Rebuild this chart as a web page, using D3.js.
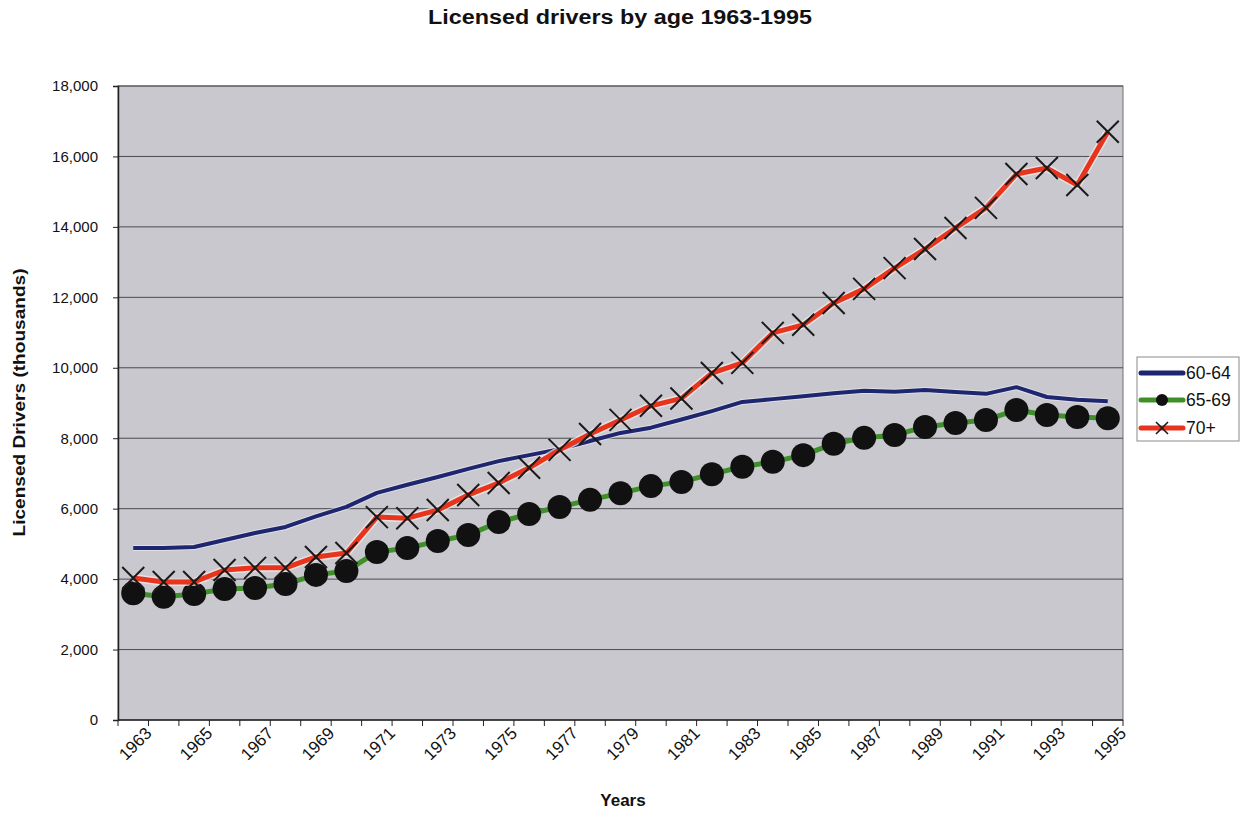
<!DOCTYPE html>
<html>
<head>
<meta charset="utf-8">
<script src="https://cdn.jsdelivr.net/npm/d3@7/dist/d3.min.js"></script>
<style>
  html, body { margin: 0; padding: 0; background: #ffffff; }
  svg { display: block; font-family: "Liberation Sans", Arial, sans-serif; }
</style>
</head>
<body>
<svg id="chart" width="1242" height="813"></svg>
<script>
// ---- data ----
const years = [1963,1964,1965,1966,1967,1968,1969,1970,1971,1972,1973,1974,1975,1976,1977,1978,1979,1980,1981,1982,1983,1984,1985,1986,1987,1988,1989,1990,1991,1992,1993,1994,1995];
const age6064 = [4880,4880,4910,5110,5310,5480,5780,6050,6450,6680,6900,7130,7350,7520,7690,7920,8150,8300,8530,8770,9030,9110,9190,9280,9350,9320,9370,9310,9260,9450,9170,9090,9050];
const age6569 = [3600,3500,3580,3720,3750,3860,4120,4230,4770,4880,5080,5250,5620,5850,6050,6250,6440,6640,6760,6980,7190,7330,7520,7840,8010,8090,8320,8430,8520,8800,8660,8600,8570];
const age70p  = [4030,3920,3920,4260,4320,4320,4630,4740,5760,5730,5960,6390,6730,7160,7670,8120,8520,8920,9130,9850,10140,10990,11220,11840,12240,12830,13370,13970,14540,15500,15670,15190,16700];
const yTicks = [0,2000,4000,6000,8000,10000,12000,14000,16000,18000];
const xLabelYears = [1963,1965,1967,1969,1971,1973,1975,1977,1979,1981,1983,1985,1987,1989,1991,1993,1995];
const seriesNames = ["60-64","65-69","70+"];

// ---- layout ----
const svg = d3.select("#chart");
const L = 118, R = 1123, T = 86, B = 720;

const x = d3.scaleBand().domain(years).range([L, R]).paddingInner(0).paddingOuter(0);
const y = d3.scaleLinear().domain([0, 18000]).range([B, T]);
const cx = d => x(d) + x.bandwidth() / 2;

// plot background
svg.append("rect").attr("x", L).attr("y", T).attr("width", R - L).attr("height", B - T)
  .attr("fill", "#c9c8ce").attr("stroke", "#707070").attr("stroke-width", 1);

// gridlines
svg.append("g").selectAll("line").data(yTicks.filter(v => v > 0)).join("line")
  .attr("x1", L).attr("x2", R).attr("y1", d => y(d)).attr("y2", d => y(d))
  .attr("stroke", "#4a4a50").attr("stroke-width", 1);

// y axis
const yAxis = d3.axisLeft(y).tickValues(yTicks).tickSize(5).tickPadding(15)
  .tickFormat(d3.format(","));
const gy = svg.append("g").attr("transform", `translate(${L},0)`).call(yAxis);
gy.select(".domain").attr("stroke", "#222").attr("stroke-width", 1.5);
gy.selectAll(".tick line").attr("stroke", "#222");
gy.selectAll(".tick text").attr("font-size", 15).attr("fill", "#111")
  .attr("font-family", "Liberation Sans, Arial, sans-serif");

// x axis line + ticks between categories
svg.append("line").attr("x1", L).attr("x2", R).attr("y1", B).attr("y2", B)
  .attr("stroke", "#222").attr("stroke-width", 1.5);
svg.append("g").selectAll("line").data(years.concat(["end"])).join("line")
  .attr("x1", d => d === "end" ? R : x(d)).attr("x2", d => d === "end" ? R : x(d))
  .attr("y1", B).attr("y2", B + 6).attr("stroke", "#222");

// x labels rotated
svg.append("g").selectAll("text").data(xLabelYears).join("text")
  .attr("transform", d => `translate(${cx(d) + 11},${B + 6}) rotate(-45)`)
  .attr("text-anchor", "end").attr("dy", "0.7em")
  .attr("font-size", 17).attr("fill", "#111").text(d => d);

// titles
svg.append("text").attr("x", 620).attr("y", 24).attr("text-anchor", "middle")
  .attr("font-size", 20).attr("font-weight", "bold").attr("fill", "#111")
  .attr("textLength", 384).attr("lengthAdjust", "spacingAndGlyphs")
  .text("Licensed drivers by age 1963-1995");
svg.append("text").attr("x", 623).attr("y", 806).attr("text-anchor", "middle")
  .attr("font-size", 17).attr("font-weight", "bold").attr("fill", "#111").text("Years");
svg.append("text").attr("transform", `translate(25,${(268 + 537) / 2}) rotate(-90)`)
  .attr("text-anchor", "middle").attr("font-size", 17).attr("font-weight", "bold")
  .attr("textLength", 268).attr("lengthAdjust", "spacingAndGlyphs")
  .attr("fill", "#111").text("Licensed Drivers (thousands)");

// lines
const line = d3.line().x((d, i) => cx(years[i])).y(d => y(d));
const gPlot = svg.append("g");

gPlot.append("path").datum(age6064).attr("d", line).attr("fill", "none")
  .attr("stroke", "#f2eef0").attr("stroke-width", 6).attr("opacity", 0.6);
gPlot.append("path").datum(age6064).attr("d", line).attr("fill", "none")
  .attr("stroke", "#1e2670").attr("stroke-width", 4).attr("stroke-linejoin", "round");

gPlot.append("path").datum(age6569).attr("d", line).attr("fill", "none")
  .attr("stroke", "#3f8f2a").attr("stroke-width", 5).attr("stroke-linejoin", "round");
gPlot.append("g").selectAll("circle").data(age6569).join("circle")
  .attr("cx", (d, i) => cx(years[i])).attr("cy", d => y(d)).attr("r", 12)
  .attr("fill", "#111");

gPlot.append("path").datum(age70p).attr("d", line).attr("fill", "none")
  .attr("stroke", "#f4ecec").attr("stroke-width", 8).attr("opacity", 0.7).attr("stroke-linejoin", "round");
gPlot.append("path").datum(age70p).attr("d", line).attr("fill", "none")
  .attr("stroke", "#e8341c").attr("stroke-width", 5).attr("stroke-linejoin", "round");
const xs = 11;
gPlot.append("g").selectAll("path").data(age70p).join("path")
  .attr("d", (d, i) => {
    const px = cx(years[i]), py = y(d);
    return `M${px - xs},${py - xs}L${px + xs},${py + xs}M${px - xs},${py + xs}L${px + xs},${py - xs}`;
  })
  .attr("stroke", "#1a1a1a").attr("stroke-width", 2).attr("fill", "none");

// legend
const lg = svg.append("g");
lg.append("rect").attr("x", 1137).attr("y", 357).attr("width", 102).attr("height", 84)
  .attr("fill", "#fff").attr("stroke", "#8a8a8a").attr("stroke-width", 1);
const legY = [373, 400, 428];
const legColors = ["#1e2670", "#3f8f2a", "#e8341c"];
seriesNames.forEach((name, i) => {
  lg.append("line").attr("x1", 1141).attr("x2", 1183).attr("y1", legY[i]).attr("y2", legY[i])
    .attr("stroke", legColors[i]).attr("stroke-width", 5).attr("stroke-linecap", "round");
  if (i === 1) {
    lg.append("circle").attr("cx", 1162).attr("cy", legY[i]).attr("r", 6).attr("fill", "#111");
  }
  if (i === 2) {
    lg.append("path").attr("d", `M1156,${legY[i]-6}L1168,${legY[i]+6}M1156,${legY[i]+6}L1168,${legY[i]-6}`)
      .attr("stroke", "#1a1a1a").attr("stroke-width", 1.6);
  }
  lg.append("text").attr("x", 1186).attr("y", legY[i]).attr("dy", "0.35em")
    .attr("font-size", 17.5).attr("fill", "#111").text(name);
});
</script>
</body>
</html>
